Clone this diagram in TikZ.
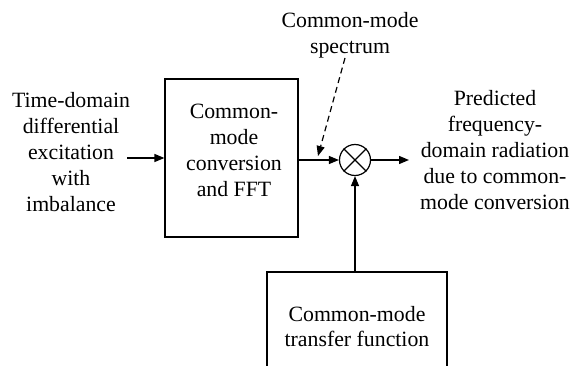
\documentclass[tikz,border=0pt]{standalone}
\usepackage{fontspec}
\setmainfont{Liberation Serif}
\newfontfamily\refserif{Liberation Serif}
\usetikzlibrary{arrows.meta}
\begin{document}
\begin{tikzpicture}[x=1pt,y=-1pt,
  every node/.style={font=\refserif\fontsize{21.8}{25.8}\selectfont},
  txt/.style={align=center,inner sep=0pt},
  blockbox/.style={draw,line width=1.2pt,inner sep=0pt,align=center},
  conn/.style={line width=1.3pt,-{Triangle[length=10pt,width=8pt]}},
  mult/.style={draw,circle,line width=1.2pt,minimum size=31pt,inner sep=0pt}]
\clip (0,0) rectangle (574,366);
\fill[white] (0,0) rectangle (574,366);
% blocks
\node[blockbox,minimum width=133pt,minimum height=158pt] (b1) at (231.5,158) {};
\node[txt] (b1t) at (234,150.5) {Common-\\mode\\conversion\\and FFT};
\node[blockbox,minimum width=180pt,minimum height=109pt] (b2) at (357,326.5) {};
\node[txt] (b2t) at (357,326.5) {Common-mode\\transfer function};
% multiplier
\node[mult] (m) at (355,160) {};
\draw[line width=1.2pt] (m.45) -- (m.225) (m.135) -- (m.315);
% texts
\node[txt] (in) at (71,152) {Time-domain\\differential\\excitation\\with\\imbalance};
\node[txt] (out) at (495,150) {Predicted\\frequency-\\domain radiation\\due to common-\\mode conversion};
\node[txt] (spec) at (350,35.5) {Common-mode\\spectrum};
% connectors
\coordinate (inS) at (127,158);
\coordinate (outE) at (409,160);
\coordinate (dS) at (345,58);
\coordinate (dE) at (318,156);
\draw[conn] (inS) -- (b1.west);
\draw[conn] (b1.east |- m) -- (m.west);
\draw[conn] (m.east) -- (outE);
\draw[conn] (b2.north -| m) -- (m.south);
\draw[conn,dashed,dash pattern=on 6pt off 4pt,line width=1.2pt] (dS) -- (dE);
\end{tikzpicture}
\end{document}
